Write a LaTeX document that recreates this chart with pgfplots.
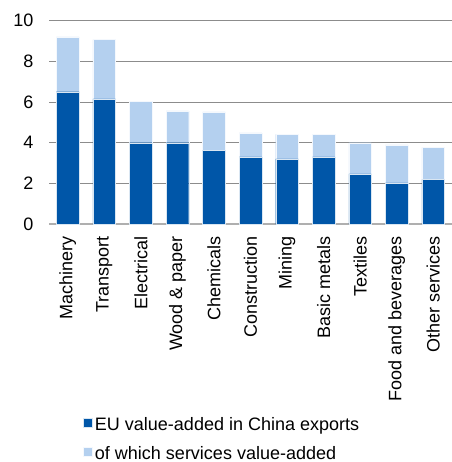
\documentclass[border=0pt]{standalone}
\usepackage{fontspec}
\setmainfont{Liberation Sans}
\usepackage{pgfplots}
\pgfplotsset{compat=1.18}
\definecolor{darkb}{HTML}{0056A8}
\definecolor{lightb}{HTML}{B4D0EF}
\definecolor{gridc}{HTML}{8C8C8C}
\begin{document}
\fontsize{18bp}{21bp}\selectfont
\begin{tikzpicture}
\useasboundingbox (-49.5bp,-238bp) rectangle (402bp,224bp);
\begin{axis}[
  scale only axis,
  width=402bp, height=203.3bp,
  at={(0,0)}, anchor=south west,
  xmin=-0.5, xmax=10.5,
  ymin=0, ymax=10,
  ytick={0,2,4,6,8,10},
  xtick={0,...,10},
  xticklabels={Machinery,Transport,Electrical,Wood \& paper,Chemicals,Construction,Mining,Basic metals,Textiles,Food and beverages,Other services},
  ybar stacked,
  bar width=0.62,
  axis line style={draw=none},
  major tick length=0pt,
  ymajorgrids,
  grid style={gridc, line width=0.9bp},
  extra y ticks={0},
  extra y tick labels={},
  extra y tick style={grid style={color=gridc!70, line width=1.4bp}},
  tick label style={font=\fontsize{18bp}{21bp}\selectfont},
  /pgf/number format/assume math mode=true,
  yticklabel style={anchor=east, inner sep=0pt, xshift=-16bp},
  xticklabel style={yshift=-12bp, rotate=90, anchor=east, inner sep=0pt},
  legend style={draw=none, fill=none, inner sep=0pt, outer sep=0pt,
    at={(0.0828,-0.9508)}, anchor=north west,
    font=\fontsize{18bp}{21bp}\selectfont,
    nodes={inner sep=0pt, text height=13bp, text depth=4bp},
    row sep=12bp, column sep=2.5bp},
  legend cell align=left,
  legend image code/.code={\fill[#1] (0bp,-1.5bp) rectangle (9.4bp,7.8bp);},
]
\addplot[fill=darkb, draw=white!85!darkb, line width=0.3bp] coordinates {
 (0,6.51) (1,6.15) (2,4.00) (3,4.00) (4,3.64) (5,3.30) (6,3.20) (7,3.30) (8,2.47) (9,2.02) (10,2.20)};
\addlegendentry{EU value-added in China exports}
\addplot[fill=lightb, draw=white!85!lightb, line width=0.3bp] coordinates {
 (0,2.70) (1,2.92) (2,2.05) (3,1.56) (4,1.87) (5,1.18) (6,1.21) (7,1.11) (8,1.53) (9,1.87) (10,1.57)};
\addlegendentry{of which services value-added}
\end{axis}
\end{tikzpicture}
\end{document}
